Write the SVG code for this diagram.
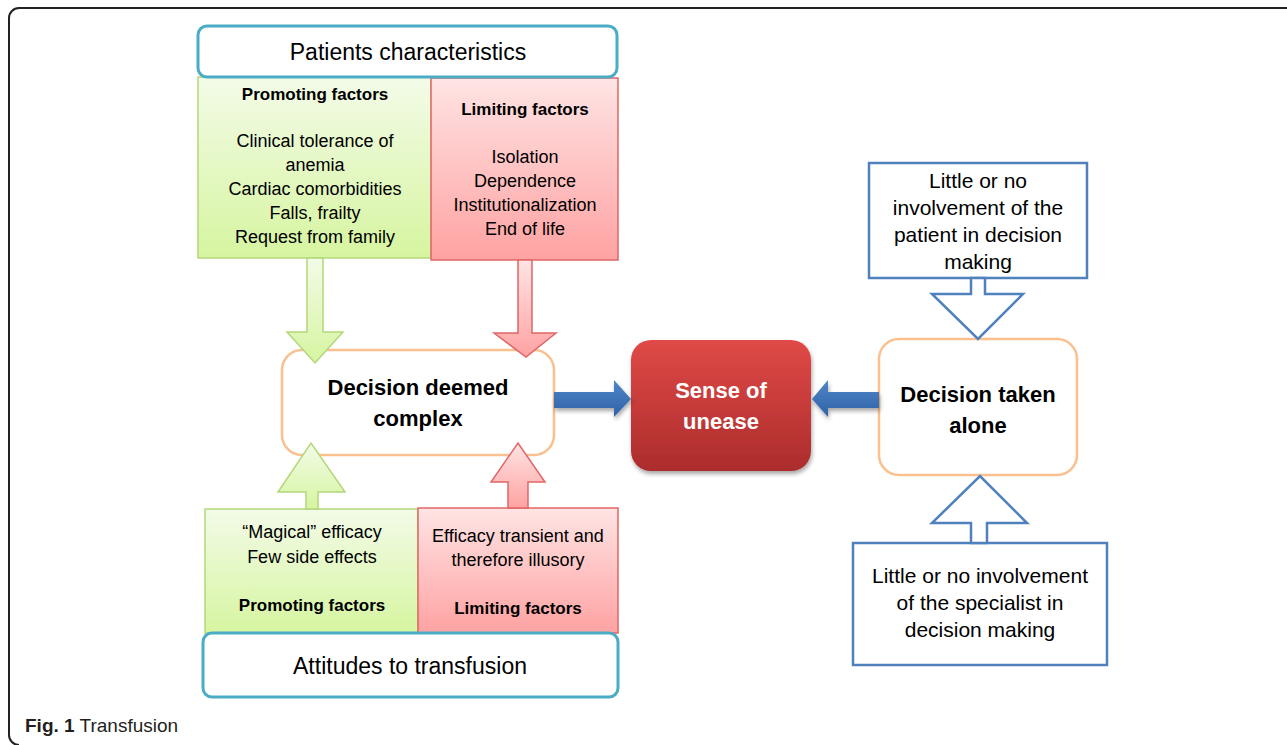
<svg xmlns="http://www.w3.org/2000/svg" width="1287" height="745" viewBox="0 0 1287 745">
<defs>
<linearGradient id="gGreen" x1="0" y1="0" x2="0" y2="1"><stop offset="0" stop-color="#f3fbe8"/><stop offset="1" stop-color="#d6f5a0"/></linearGradient>
<linearGradient id="gRed" x1="0" y1="0" x2="0" y2="1"><stop offset="0" stop-color="#ffe4e4"/><stop offset="1" stop-color="#ffa2a2"/></linearGradient>
<linearGradient id="gUnease" x1="0" y1="0" x2="0" y2="1"><stop offset="0" stop-color="#e04a47"/><stop offset="1" stop-color="#ac2c2c"/></linearGradient>
<linearGradient id="gBlue" x1="0" y1="0" x2="0" y2="1"><stop offset="0" stop-color="#4f86c6"/><stop offset="1" stop-color="#2f62a8"/></linearGradient>
<filter id="shadow" x="-20%" y="-20%" width="140%" height="150%"><feDropShadow dx="1" dy="3" stdDeviation="2" flood-color="#000" flood-opacity="0.35"/></filter>
</defs>
<style>
text{font-family:"Liberation Sans",Arial,sans-serif;fill:#000;text-anchor:middle}
.b{font-weight:bold}
.f18{font-size:18px}
.f17{font-size:17px}
.f21{font-size:21px}
.f22{font-size:22px}
.f23{font-size:23px}
.teal{fill:#fff;stroke:#4bacc6;stroke-width:3}
.green{fill:url(#gGreen);stroke:#b3d77a;stroke-width:1.5}
.red{fill:url(#gRed);stroke:#e06666;stroke-width:1.5}
.orange{fill:#fff;stroke:#fac08f;stroke-width:2.5}
.blueo{fill:#fff;stroke:#4f81bd;stroke-width:2.5}
.bluef{fill:url(#gBlue);filter:url(#shadow)}
</style>
<path d="M1287,8 H19 A10,10 0 0 0 9,18 V735 A10,10 0 0 0 19,745" fill="none" stroke="#222" stroke-width="2"/>

<g id="patients-promoting">
<rect class="green" x="198" y="77" width="233" height="181"/>
<text class="b f17" x="315" y="100">Promoting factors</text>
<text class="f18" x="315" y="147">Clinical tolerance of</text>
<text class="f18" x="315" y="171">anemia</text>
<text class="f18" x="315" y="195">Cardiac comorbidities</text>
<text class="f18" x="315" y="219">Falls, frailty</text>
<text class="f18" x="315" y="243">Request from family</text>
</g>
<g id="patients-limiting">
<rect class="red" x="431" y="78" width="187" height="182"/>
<text class="b f17" x="525" y="115">Limiting factors</text>
<text class="f18" x="525" y="163">Isolation</text>
<text class="f18" x="525" y="187">Dependence</text>
<text class="f18" x="525" y="211">Institutionalization</text>
<text class="f18" x="525" y="235">End of life</text>
</g>
<g id="patients-characteristics">
<rect class="teal" x="198" y="26" width="419" height="51" rx="9"/>
<text class="f23" x="408" y="60">Patients characteristics</text>
</g>

<g id="decision-complex">
<rect class="orange" x="282" y="350" width="272" height="105" rx="20"/>
<text class="b f22" x="418" y="395">Decision deemed</text>
<text class="b f22" x="418" y="426">complex</text>
</g>

<g id="attitudes-promoting">
<rect class="green" x="205" y="509" width="213" height="124"/>
<text class="f18" x="312" y="538">“Magical” efficacy</text>
<text class="f18" x="312" y="563">Few side effects</text>
<text class="b f17" x="312" y="611">Promoting factors</text>
</g>
<g id="attitudes-limiting">
<rect class="red" x="418" y="508" width="200" height="125"/>
<text class="f18" x="518" y="542">Efficacy transient and</text>
<text class="f18" x="518" y="566">therefore illusory</text>
<text class="b f17" x="518" y="614">Limiting factors</text>
</g>
<g id="attitudes">
<rect class="teal" x="203" y="633" width="415" height="64" rx="9"/>
<text class="f23" x="410" y="674">Attitudes to transfusion</text>
</g>

<g id="sense-of-unease">
<rect x="631" y="340" width="180" height="131" rx="20" fill="url(#gUnease)" filter="url(#shadow)"/>
<text class="b f22" x="721" y="398" style="fill:#fff">Sense of</text>
<text class="b f22" x="721" y="429" style="fill:#fff">unease</text>
</g>

<g id="decision-alone">
<rect class="orange" x="879" y="339" width="198" height="136" rx="20"/>
<text class="b f22" x="978" y="402">Decision taken</text>
<text class="b f22" x="978" y="433">alone</text>
</g>

<g id="patient-involvement">
<rect class="blueo" x="869" y="163" width="218" height="115"/>
<text class="f21" x="978" y="188">Little or no</text>
<text class="f21" x="978" y="215">involvement of the</text>
<text class="f21" x="978" y="242">patient in decision</text>
<text class="f21" x="978" y="269">making</text>
</g>

<g id="specialist-involvement">
<rect class="blueo" x="853" y="543" width="254" height="122"/>
<text class="f21" x="980" y="583">Little or no involvement</text>
<text class="f21" x="980" y="610">of the specialist in</text>
<text class="f21" x="980" y="637">decision making</text>
</g>

<g id="connectors">
<polygon class="green" points="307,258 323,258 323,332 343,332 315,363 287,332 307,332"/>
<polygon class="red" points="518,260 532,260 532,333 556,333 526,357 494,333 518,333"/>
<polygon class="green" points="306,509 306,492 278,492 311,443 345,492 318,492 318,509"/>
<polygon class="red" points="508,508 508,482 491,482 518,443 545,482 528,482 528,508"/>
<polygon class="bluef" points="554,392 614,392 614,380 631,399 614,417 614,408 554,408"/>
<polygon class="bluef" points="879,392 828,392 828,380 812,399 828,417 828,408 879,408"/>
<polygon class="blueo" points="971,278 971,294 932,294 978,339 1023,294 985,294 985,278"/>
<polygon class="blueo" points="971,543 971,523 932,523 980,476 1027,523 987,523 987,543"/>
</g>

<text x="25" y="732" style="text-anchor:start;font-size:19px;fill:#231f20"><tspan font-weight="bold">Fig. 1</tspan> Transfusion</text>
</svg>
